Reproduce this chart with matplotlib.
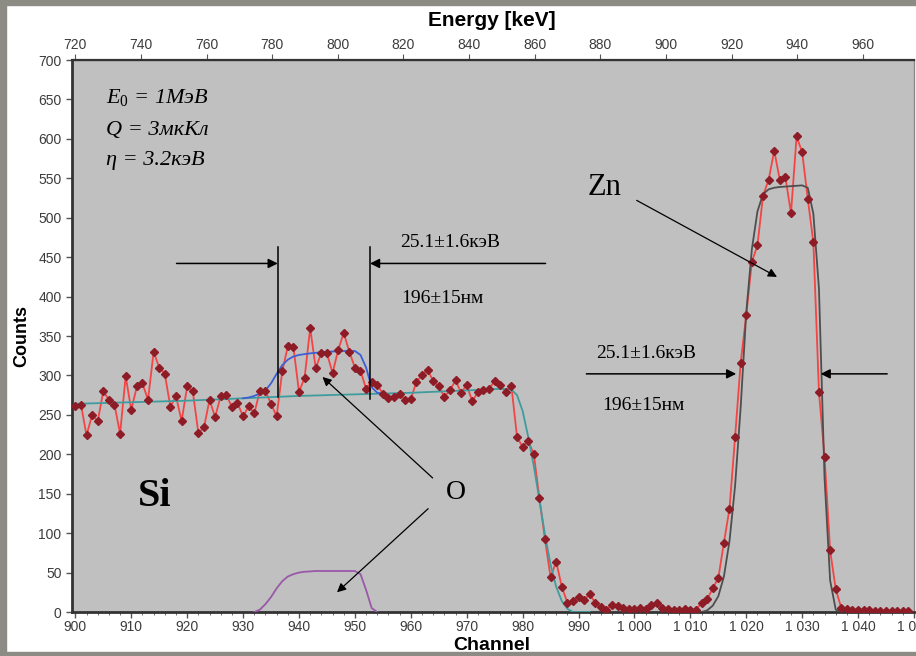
import numpy as np
import matplotlib
matplotlib.use("Agg")
import matplotlib.pyplot as plt
from matplotlib.patches import Rectangle
from matplotlib.ticker import FuncFormatter, MultipleLocator

plt.rcParams['mathtext.fontset'] = 'custom'
plt.rcParams['mathtext.rm'] = 'Liberation Serif'
plt.rcParams['mathtext.it'] = 'Liberation Serif:italic'

# measured spectrum, one value per channel 900..1049
channels = np.arange(900, 1050)
counts = [261, 263, 224, 250, 242, 280, 269, 263, 226, 299,
          256, 286, 290, 269, 330, 310, 302, 260, 274, 242,
          286, 280, 227, 234, 269, 247, 274, 275, 260, 265,
          248, 261, 252, 280, 280, 264, 248, 305, 337, 336,
          279, 297, 360, 309, 329, 328, 303, 332, 354, 330,
          310, 306, 283, 292, 288, 277, 272, 273, 277, 269,
          270, 292, 300, 307, 293, 286, 273, 281, 294, 278,
          288, 267, 279, 282, 283, 293, 288, 279, 286, 222,
          209, 217, 200, 144, 92, 44, 64, 32, 12, 14,
          19, 15, 23, 11, 6, 3, 9, 7, 5, 4,
          4, 5, 4, 9, 12, 5, 4, 3, 3, 4,
          3, 3, 11, 16, 30, 43, 88, 131, 222, 316,
          377, 444, 465, 528, 548, 585, 548, 551, 506, 603,
          583, 524, 469, 279, 197, 78, 29, 5, 4, 3,
          3, 2, 2, 1, 1, 1, 1, 1, 1, 1]

# simulated curves
si_ch = [900, 910, 920, 930, 940, 950, 960, 970, 976, 978, 979, 980, 981, 982,
         983, 984, 985, 986, 987, 988, 989, 992]
si_val = [264, 266, 268, 271, 274, 276, 278, 281, 283, 282, 275, 255, 222, 185,
          142, 98, 60, 32, 14, 4, 0, 0]

sio_ch = [930, 931, 932, 933, 934, 935, 936, 937, 938, 939, 940, 942, 945, 948,
          950, 951, 952, 953, 954, 955]
sio_val = [271, 272, 274, 277, 281, 290, 302, 313, 320, 324, 326, 328, 330, 331,
           331, 326, 310, 285, 278, 277]

o_ch = [932, 933, 934, 935, 936, 937, 938, 939, 940, 941, 943, 946, 950, 951,
        952, 953, 954]
o_val = [0, 3, 10, 19, 30, 39, 45, 48, 50, 51, 52, 52, 52, 48, 28, 5, 0]

zn_ch = [1012, 1013, 1014, 1015, 1016, 1017, 1018, 1019, 1020, 1021, 1022, 1023,
         1024, 1025, 1026, 1028, 1030, 1031, 1032, 1033, 1034, 1035, 1036, 1037]
zn_val = [0, 2, 8, 20, 45, 90, 160, 260, 380, 460, 508, 530, 536, 538, 539, 540,
          541, 538, 505, 410, 170, 40, 3, 0]

energy_ticks = list(range(720, 961, 20))
kev_per_ch = 1.704

fig = plt.figure(figsize=(9.16, 6.56), dpi=100)
fig.patch.set_facecolor('white')
ax = fig.add_axes([72 / 916, 1 - 612 / 656, 842 / 916, 552 / 656])
ax.set_facecolor('#c0c0c0')

ax.plot(channels, counts, color='#f44444', lw=1.3, zorder=2)
ax.plot(si_ch, si_val, color='#3f9c9e', lw=1.3, zorder=3)
ax.plot(sio_ch, sio_val, color='#3d5fd6', lw=1.3, zorder=3)
ax.plot(o_ch, o_val, color='#9a58a8', lw=1.3, zorder=3)
ax.plot(zn_ch, zn_val, color='#4e4e4e', lw=1.3, zorder=3)
ax.plot(channels, counts, ls='none', marker='D', ms=4.2, color='#8e1c26',
        mec='#8e1c26', zorder=4)

ax.set_xlim(899.4, 1050)
ax.set_ylim(0, 700)
ax.xaxis.set_major_locator(MultipleLocator(10))
ax.xaxis.set_minor_locator(MultipleLocator(2))
ax.yaxis.set_major_locator(MultipleLocator(50))
ax.xaxis.set_major_formatter(FuncFormatter(
    lambda v, p: f"{int(v):,}".replace(",", " ")))

ax.tick_params(axis='both', which='major', labelsize=10, labelcolor='#3c3c3c',
               color='#555555', length=4, width=1)
ax.tick_params(axis='x', which='major', pad=1.5)
ax.tick_params(axis='x', which='minor', length=2, color='#555555')

for s in ['left', 'bottom']:
    ax.spines[s].set_linewidth(2)
    ax.spines[s].set_color('#333333')
ax.spines['top'].set_linewidth(1.6)
ax.spines['top'].set_color('#333333')
ax.spines['right'].set_linewidth(1)
ax.spines['right'].set_color('#888888')

top = ax.secondary_xaxis('top', functions=(
    lambda c: 720 + (c - 900) * kev_per_ch,
    lambda e: 900 + (e - 720) / kev_per_ch))
top.set_xticks(energy_ticks)
top.tick_params(labelsize=10, labelcolor='#3c3c3c', color='#555555', length=4,
                pad=2)
for lab in top.get_xticklabels():
    lab.set_fontfamily('Liberation Sans')

fig.text(492 / 916, 1 - 21 / 656, 'Energy [keV]', fontsize=15, fontweight='bold',
         family='Liberation Sans', ha='center', va='center')
fig.text(492 / 916, 1 - 646 / 656, 'Channel', fontsize=14, fontweight='bold',
         family='Liberation Sans', ha='center', va='center')
ax.set_ylabel('Counts', fontsize=13, fontweight='bold',
              family='Liberation Sans', labelpad=6)
for lab in ax.get_xticklabels() + ax.get_yticklabels():
    lab.set_fontfamily('Liberation Sans')

serif = 'Liberation Serif'
ax.text(905.4, 653, r'$E_0$ = 1МэВ', family=serif, style='italic',
        fontsize=16, va='center')
ax.text(905.4, 610, 'Q = 3мкКл', family=serif, style='italic',
        fontsize=16, va='center')
ax.text(905.4, 573, 'η = 3.2кэВ', family=serif, style='italic',
        fontsize=16, va='center')

ax.text(914.2, 146, 'Si', family=serif, fontweight='bold', fontsize=29,
        ha='center', va='center')
ax.text(968.0, 152, 'O', family=serif, fontsize=20, ha='center', va='center')
ax.text(994.6, 538, 'Zn', family=serif, fontsize=22, ha='center', va='center')

ax.text(958.1, 469, '25.1±1.6кэВ', family=serif, fontsize=14, va='center')
ax.text(958.2, 398, '196±15нм', family=serif, fontsize=14, va='center')
ax.text(993.2, 328, '25.1±1.6кэВ', family=serif, fontsize=14, va='center')
ax.text(994.3, 262, '196±15нм', family=serif, fontsize=14, va='center')

ax.plot([936.2, 936.2], [273, 463], color='black', lw=1.1, zorder=5)
ax.plot([952.7, 952.7], [270, 463], color='black', lw=1.1, zorder=5)

arrow = dict(arrowstyle='-|>', color='black', lw=1.1, mutation_scale=14,
             shrinkA=0, shrinkB=0)
thin_arrow = dict(arrowstyle='-|>', color='black', lw=0.9, mutation_scale=13,
                  shrinkA=0, shrinkB=0)
ax.annotate('', xy=(936.2, 442), xytext=(918.1, 442), arrowprops=arrow, zorder=5)
ax.annotate('', xy=(952.7, 442), xytext=(984.1, 442), arrowprops=arrow, zorder=5)
ax.annotate('', xy=(1018.2, 302), xytext=(991.4, 302), arrowprops=arrow, zorder=5)
ax.annotate('', xy=(1033.3, 302), xytext=(1045.2, 302), arrowprops=arrow, zorder=5)
ax.annotate('', xy=(1025.5, 425), xytext=(1000.4, 522), arrowprops=thin_arrow, zorder=5)
ax.annotate('', xy=(944.2, 298), xytext=(963.9, 170), arrowprops=thin_arrow, zorder=5)
ax.annotate('', xy=(946.8, 25), xytext=(963.1, 131), arrowprops=thin_arrow, zorder=5)

# grey photo frame around the slide
frame = '#8c8c84'
fig.patches.append(Rectangle((0, 0), 6 / 916, 1, transform=fig.transFigure,
                             color=frame, zorder=0))
fig.patches.append(Rectangle((0, 1 - 5 / 656), 1, 5 / 656, transform=fig.transFigure,
                             color=frame, zorder=0))
fig.patches.append(Rectangle((0, 0), 1, 4 / 656, transform=fig.transFigure,
                             color=frame, zorder=0))

fig.savefig('out.png', dpi=100)
